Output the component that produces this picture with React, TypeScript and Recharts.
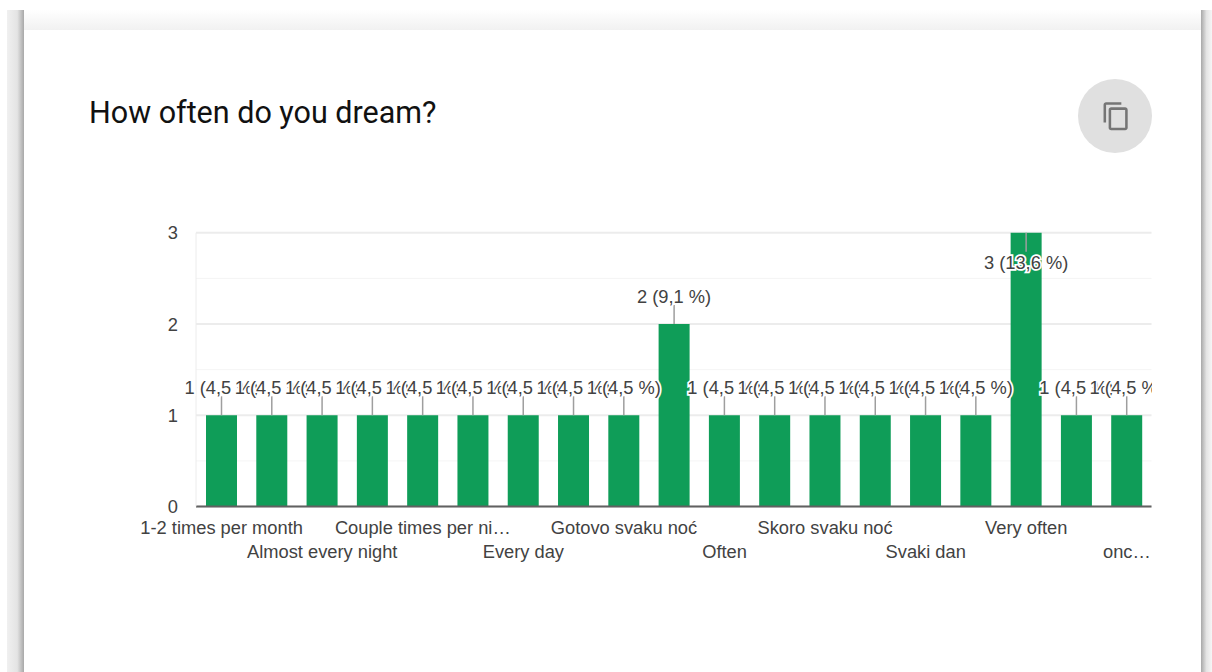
import { Bar, BarChart, CartesianGrid, LabelList, XAxis, YAxis } from "recharts";

// hidden categories were dropped by the original axis, so their names are not readable
const categories = [
  "1-2 times per month", "", "Almost every night", "", "Couple times per ni…", "", "Every day", "",
  "Gotovo svaku noć", "", "Often", "", "Skoro svaku noć", "", "Svaki dan", "", "Very often", "", "onc…",
];
const counts = [1, 1, 1, 1, 1, 1, 1, 1, 1, 2, 1, 1, 1, 1, 1, 1, 3, 1, 1];
const percents = ["4,5", "4,5", "4,5", "4,5", "4,5", "4,5", "4,5", "4,5", "4,5", "9,1", "4,5", "4,5", "4,5", "4,5", "4,5", "4,5", "13,6", "4,5", "4,5"];
const yTicks = [0, 1, 2, 3];
const minorTicks = [0.5, 1.5, 2.5];

const rows = categories.map((name, i) => ({
  key: i,
  name,
  count: counts[i],
  label: `${counts[i]} (${percents[i]} %)`,
}));

const FONT = '"Liberation Sans", Arial, sans-serif';
const TEXT = "#424242";
const FONT_SIZE = 18.3;

function CategoryTick({ x, y, index, payload }: any) {
  const row = index % 4 === 0 ? 0 : 1;
  const name = categories[payload.index ?? index];
  if (!name) return null;
  return (
    <text x={x + 0.5} y={y + 19 + row * 24} textAnchor="middle" fontFamily={FONT} fontSize={FONT_SIZE} fill={TEXT}>
      {name}
    </text>
  );
}

function BarLabel({ x, y, width, index }: any) {
  const cx = x + width / 2;
  const top = counts[index] === 3;
  const lineEnd = top ? y + 19 : y - 19;
  const textY = top ? y + 36 : y - 21;
  return (
    <g>
      <line x1={cx} x2={cx} y1={y} y2={lineEnd} stroke="#9e9e9e" strokeWidth={1.5} />
      <text
        x={cx}
        y={textY}
        textAnchor="middle"
        fontFamily={FONT}
        fontSize={FONT_SIZE}
        fill={TEXT}
        stroke="#fff"
        strokeWidth={3.5}
        paintOrder="stroke"
      >
        {rows[index].label}
      </text>
    </g>
  );
}

function CopyButton() {
  return (
    <div style={{ position: "absolute", left: 1078, top: 79, width: 74, height: 74, borderRadius: "50%", background: "#e0e0e0" }}>
      <svg width={30.5} height={30.5} viewBox="0 0 24 24" style={{ position: "absolute", left: 22.5, top: 21.7 }}>
        <path
          fill="#757575"
          d="M16 1H4c-1.1 0-2 .9-2 2v14h2V3h12V1zm3 4H8c-1.1 0-2 .9-2 2v14c0 1.1.9 2 2 2h11c1.1 0 2-.9 2-2V7c0-1.1-.9-2-2-2zm0 16H8V7h11v14z"
        />
      </svg>
    </div>
  );
}

export default function App() {
  return (
    <div style={{ position: "fixed", inset: 0, width: 1212, height: 672, background: "#fff", overflow: "hidden" }}>
      {/* page shadows around the card */}
      <div style={{ position: "absolute", left: 7, top: 10, width: 17, height: 662, background: "linear-gradient(to right, #f0f0f0, #e4e4e4 60%, #a8a8a8)" }} />
      <div style={{ position: "absolute", left: 1201, top: 10, width: 11, height: 662, background: "linear-gradient(to right, #a8a8a8, #e4e4e4 50%, #f6f6f6)" }} />
      <div style={{ position: "absolute", left: 24, top: 10, width: 1177, height: 20, background: "linear-gradient(to bottom, #fff, #f1f1f1)" }} />

      <div style={{ position: "absolute", left: 89, top: 96, fontFamily: "Roboto, sans-serif", fontSize: 30.5, lineHeight: "34px", color: "#111" }}>
        How often do you dream?
      </div>
      <CopyButton />

      <div style={{ position: "absolute", left: 0, top: 0 }}>
        <BarChart
          width={1152}
          height={600}
          data={rows}
          barSize={31}
          margin={{ top: 232.8, right: 0.5, bottom: 23.5, left: 156 }}
        >
          <CartesianGrid vertical={false} horizontalValues={minorTicks} stroke="#f5f5f5" strokeWidth={1} />
          <CartesianGrid vertical={false} horizontalValues={yTicks} stroke="#ececec" strokeWidth={2} />
          <XAxis
            dataKey="key"
            type="category"
            height={70}
            interval={0}
            tickLine={false}
            axisLine={{ stroke: "#616161", strokeWidth: 2 }}
            tick={<CategoryTick />}
          />
          <YAxis
            domain={[0, 3]}
            ticks={yTicks}
            width={40}
            tickLine={false}
            axisLine={{ stroke: "#ececec", strokeWidth: 1 }}
            tickMargin={12}
            tick={{ fontFamily: FONT, fontSize: FONT_SIZE, fill: TEXT }}
          />
          <YAxis yAxisId="edge" orientation="right" domain={[0, 3]} width={0} tick={false} tickLine={false} axisLine={{ stroke: "#ececec", strokeWidth: 1 }} />
          <Bar dataKey="count" fill="#0f9d58" isAnimationActive={false}>
            <LabelList dataKey="label" content={<BarLabel />} />
          </Bar>
        </BarChart>
      </div>
    </div>
  );
}
